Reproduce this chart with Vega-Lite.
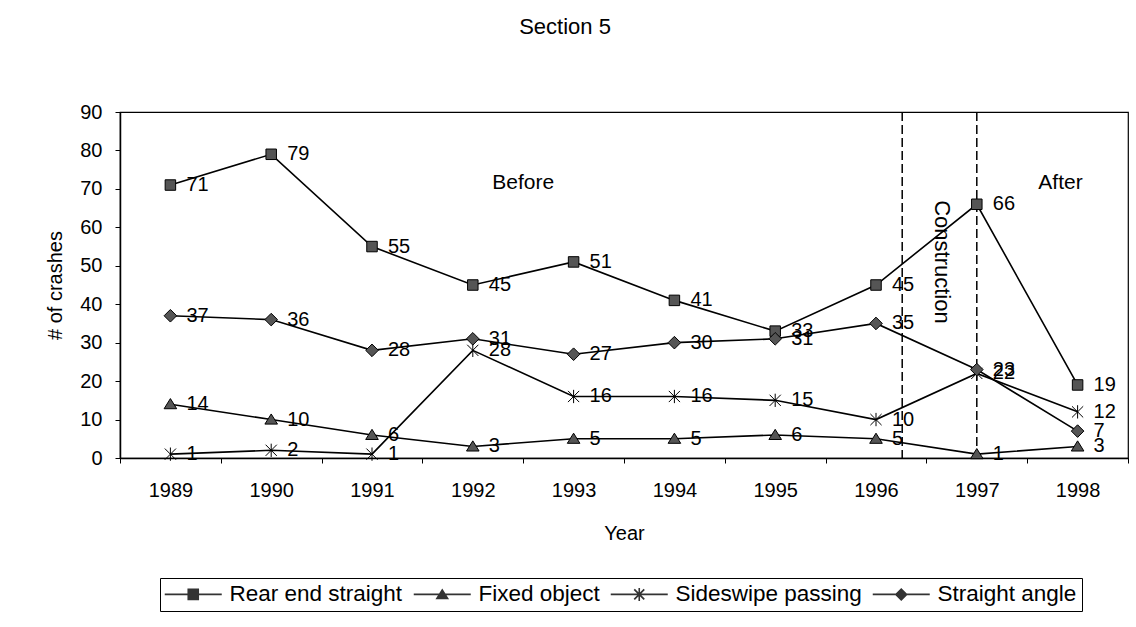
{
  "$schema": "https://vega.github.io/schema/vega-lite/v6.json",
  "width": 1008,
  "height": 346,
  "autosize": {"type": "none"},
  "padding": {"left": 120, "top": 112, "right": 8, "bottom": 169},
  "background": "white",
  "title": {"text": "Section 5", "fontSize": 22, "font": "Liberation Sans", "fontWeight": "normal", "color": "black", "anchor": "middle", "dx": -59, "offset": 63},
  "datasets": {
    "crashes": [
      {"year": 1989, "series": "Rear end straight", "value": 71},
      {"year": 1990, "series": "Rear end straight", "value": 79},
      {"year": 1991, "series": "Rear end straight", "value": 55},
      {"year": 1992, "series": "Rear end straight", "value": 45},
      {"year": 1993, "series": "Rear end straight", "value": 51},
      {"year": 1994, "series": "Rear end straight", "value": 41},
      {"year": 1995, "series": "Rear end straight", "value": 33},
      {"year": 1996, "series": "Rear end straight", "value": 45},
      {"year": 1997, "series": "Rear end straight", "value": 66},
      {"year": 1998, "series": "Rear end straight", "value": 19},
      {"year": 1989, "series": "Fixed object", "value": 14},
      {"year": 1990, "series": "Fixed object", "value": 10},
      {"year": 1991, "series": "Fixed object", "value": 6},
      {"year": 1992, "series": "Fixed object", "value": 3},
      {"year": 1993, "series": "Fixed object", "value": 5},
      {"year": 1994, "series": "Fixed object", "value": 5},
      {"year": 1995, "series": "Fixed object", "value": 6},
      {"year": 1996, "series": "Fixed object", "value": 5},
      {"year": 1997, "series": "Fixed object", "value": 1},
      {"year": 1998, "series": "Fixed object", "value": 3},
      {"year": 1989, "series": "Sideswipe passing", "value": 1},
      {"year": 1990, "series": "Sideswipe passing", "value": 2},
      {"year": 1991, "series": "Sideswipe passing", "value": 1},
      {"year": 1992, "series": "Sideswipe passing", "value": 28},
      {"year": 1993, "series": "Sideswipe passing", "value": 16},
      {"year": 1994, "series": "Sideswipe passing", "value": 16},
      {"year": 1995, "series": "Sideswipe passing", "value": 15},
      {"year": 1996, "series": "Sideswipe passing", "value": 10},
      {"year": 1997, "series": "Sideswipe passing", "value": 22},
      {"year": 1998, "series": "Sideswipe passing", "value": 12},
      {"year": 1989, "series": "Straight angle", "value": 37},
      {"year": 1990, "series": "Straight angle", "value": 36},
      {"year": 1991, "series": "Straight angle", "value": 28},
      {"year": 1992, "series": "Straight angle", "value": 31},
      {"year": 1993, "series": "Straight angle", "value": 27},
      {"year": 1994, "series": "Straight angle", "value": 30},
      {"year": 1995, "series": "Straight angle", "value": 31},
      {"year": 1996, "series": "Straight angle", "value": 35},
      {"year": 1997, "series": "Straight angle", "value": 23},
      {"year": 1998, "series": "Straight angle", "value": 7}
    ],
    "dividers": [{"year": 1996.26}, {"year": 1997}],
    "notes": [
      {"label": "Before", "year": 1992.5, "value": 71.6},
      {"label": "After", "year": 1997.83, "value": 71.6}
    ],
    "vnotes": [
      {"label": "Construction", "year": 1996.65, "value": 51}
    ]
  },
  "layer": [
    {
      "data": {"name": "crashes"},
      "mark": {"type": "line", "color": "black", "strokeWidth": 1.6},
      "encoding": {
        "x": {"field": "year", "type": "quantitative", "scale": {"domain": [1988.5, 1998.5], "nice": false, "zero": false},
          "axis": {"orient": "bottom", "values": [1989, 1990, 1991, 1992, 1993, 1994, 1995, 1996, 1997, 1998], "format": "d", "ticks": false, "labelPadding": 22, "labelFlush": false, "labelOverlap": false, "title": "Year", "titlePadding": 23, "domainWidth": 1.5}},
        "y": {"field": "value", "type": "quantitative", "scale": {"domain": [0, 90], "nice": false},
          "axis": {"values": [0, 10, 20, 30, 40, 50, 60, 70, 80, 90], "labelOverlap": false, "labelFlush": false, "tickSize": 5, "labelPadding": 13, "title": "# of crashes", "titlePadding": 14, "domainWidth": 1.5}},
        "detail": {"field": "series", "type": "nominal"}
      }
    },
    {
      "data": {"name": "dividers"},
      "mark": {"type": "rule", "color": "black", "strokeWidth": 1.5, "strokeDash": [9, 4]},
      "encoding": {
        "x": {"field": "year", "type": "quantitative", "scale": {"domain": [1988.5, 1998.5], "nice": false, "zero": false},
          "axis": {"orient": "bottom", "values": [1988.5, 1989.5, 1990.5, 1991.5, 1992.5, 1993.5, 1994.5, 1995.5, 1996.5, 1997.5, 1998.5], "labels": false, "ticks": true, "tickSize": 5, "domain": false, "title": null}}
      }
    },
    {
      "data": {"name": "crashes"},
      "mark": {"type": "point", "filled": true, "fill": "#555555", "stroke": "black", "strokeWidth": 1, "size": 196, "opacity": 1},
      "encoding": {
        "x": {"field": "year", "type": "quantitative", "scale": {"domain": [1988.5, 1998.5], "nice": false, "zero": false}, "axis": null},
        "y": {"field": "value", "type": "quantitative", "scale": {"domain": [0, 90], "nice": false},
          "axis": {"values": [0, 10, 20, 30, 40, 50, 60, 70, 80, 90], "labelOverlap": false, "labelFlush": false, "tickSize": 5, "labelPadding": 13, "title": "# of crashes", "titlePadding": 14, "domainWidth": 1.5}},
        "shape": {"field": "series", "type": "nominal",
          "scale": {"domain": ["Rear end straight", "Fixed object", "Sideswipe passing", "Straight angle"],
            "range": ["M-0.75,-0.75H0.75V0.75H-0.75Z", "M0,-0.8L0.9,0.65H-0.9Z", "M-0.8,-0.8L0.8,0.8M0.8,-0.8L-0.8,0.8M0,-0.95V0.95", "M0,-0.9L0.9,0L0,0.9L-0.9,0Z"]},
          "legend": null}
      }
    },
    {
      "data": {"name": "crashes"},
      "mark": {"type": "point", "filled": true, "fill": "#333333", "size": 400, "opacity": 0},
      "encoding": {
        "x": {"field": "year", "type": "quantitative", "scale": {"domain": [1988.5, 1998.5], "nice": false, "zero": false}, "axis": null},
        "y": {"field": "value", "type": "quantitative", "scale": {"domain": [0, 90], "nice": false},
          "axis": {"values": [0, 10, 20, 30, 40, 50, 60, 70, 80, 90], "labelOverlap": false, "labelFlush": false, "tickSize": 5, "labelPadding": 13, "title": "# of crashes", "titlePadding": 14, "domainWidth": 1.5}},
        "shape": {"field": "series", "type": "nominal",
          "scale": {"domain": ["Rear end straight", "Fixed object", "Sideswipe passing", "Straight angle"],
            "range": [
              "M-2.85,-0.08H2.85V0.08H-2.85ZM-0.58,-0.58H0.58V0.58H-0.58Z",
              "M-2.85,-0.08H2.85V0.08H-2.85ZM0,-0.6L0.68,0.48H-0.68Z",
              "M-2.85,-0.08H2.85V0.08H-2.85ZM-0.56,-0.44L-0.44,-0.56L0.56,0.44L0.44,0.56ZM0.44,-0.56L0.56,-0.44L-0.44,0.56L-0.56,0.44ZM-0.08,-0.65H0.08V0.65H-0.08Z",
              "M-2.85,-0.08H2.85V0.08H-2.85ZM0,-0.65L0.65,0L0,0.65L-0.65,0Z"]},
          "legend": {"title": null, "orient": "none", "legendX": 40, "legendY": 466, "direction": "horizontal", "symbolSize": 400, "symbolOffset": 17, "symbolStrokeWidth": 0, "symbolFillColor": "#333333", "symbolOpacity": 1, "labelFontSize": 22.5, "labelFont": "Liberation Sans", "labelColor": "black", "labelLimit": 400, "labelOffset": 25, "columnPadding": 10, "padding": 5, "strokeColor": "black",
            "encode": {"symbols": {"opacity": {"value": 1}, "fill": {"value": "#333333"}}}}}
      }
    },
    {
      "data": {"name": "crashes"},
      "mark": {"type": "text", "align": "left", "baseline": "middle", "dx": 16, "fontSize": 20, "font": "Liberation Sans", "color": "black"},
      "encoding": {
        "x": {"field": "year", "type": "quantitative", "scale": {"domain": [1988.5, 1998.5], "nice": false, "zero": false}, "axis": null},
        "y": {"field": "value", "type": "quantitative", "scale": {"domain": [0, 90], "nice": false},
          "axis": {"values": [0, 10, 20, 30, 40, 50, 60, 70, 80, 90], "labelOverlap": false, "labelFlush": false, "tickSize": 5, "labelPadding": 13, "title": "# of crashes", "titlePadding": 14, "domainWidth": 1.5}},
        "text": {"field": "value", "type": "quantitative"}
      }
    },
    {
      "data": {"name": "notes"},
      "mark": {"type": "text", "align": "center", "baseline": "middle", "fontSize": 21, "font": "Liberation Sans", "color": "black"},
      "encoding": {
        "x": {"field": "year", "type": "quantitative", "scale": {"domain": [1988.5, 1998.5], "nice": false, "zero": false}, "axis": null},
        "y": {"field": "value", "type": "quantitative", "scale": {"domain": [0, 90], "nice": false},
          "axis": {"values": [0, 10, 20, 30, 40, 50, 60, 70, 80, 90], "labelOverlap": false, "labelFlush": false, "tickSize": 5, "labelPadding": 13, "title": "# of crashes", "titlePadding": 14, "domainWidth": 1.5}},
        "text": {"field": "label", "type": "nominal"}
      }
    },
    {
      "data": {"name": "vnotes"},
      "mark": {"type": "text", "align": "center", "baseline": "middle", "angle": 90, "fontSize": 22, "font": "Liberation Sans", "color": "black"},
      "encoding": {
        "x": {"field": "year", "type": "quantitative", "scale": {"domain": [1988.5, 1998.5], "nice": false, "zero": false}, "axis": null},
        "y": {"field": "value", "type": "quantitative", "scale": {"domain": [0, 90], "nice": false},
          "axis": {"values": [0, 10, 20, 30, 40, 50, 60, 70, 80, 90], "labelOverlap": false, "labelFlush": false, "tickSize": 5, "labelPadding": 13, "title": "# of crashes", "titlePadding": 14, "domainWidth": 1.5}},
        "text": {"field": "label", "type": "nominal"}
      }
    }
  ],
  "resolve": {"axis": {"x": "independent"}, "scale": {"shape": "independent"}, "legend": {"shape": "independent"}},
  "config": {
    "font": "Liberation Sans",
    "view": {"stroke": "black", "strokeWidth": 1.2},
    "axis": {"labelFontSize": 20, "titleFontSize": 20, "titleFontWeight": "normal", "labelFont": "Liberation Sans", "titleFont": "Liberation Sans", "labelColor": "black", "titleColor": "black", "domainColor": "black", "tickColor": "black", "grid": false}
  }
}
